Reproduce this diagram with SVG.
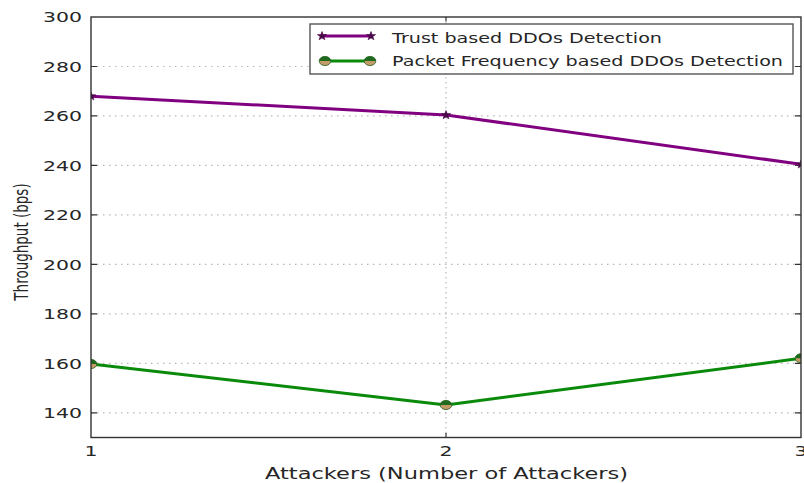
<svg xmlns="http://www.w3.org/2000/svg" width="804" height="483" viewBox="0 0 804 483">
<style>
text{font-family:"DejaVu Sans","Liberation Sans",sans-serif;fill:#262626}
.tick{font-size:14.5px}
.grid{stroke:#b8b8b8;stroke-width:1.2;fill:none}
.gh{stroke-dasharray:1.5 4.5}
.gv{stroke-dasharray:1.5 3.5}
.tk{stroke:#333;stroke-width:1.2}
.trust{stroke:#800080;stroke-width:3;fill:none;stroke-linejoin:round}
.pkt{stroke:#0a8a0a;stroke-width:3;fill:none;stroke-linejoin:round}
.lg{font-size:14.5px}
</style>
<defs>
<clipPath id="plot"><rect x="91" y="17" width="710" height="420.5"/></clipPath>
<g id="star"><polygon points="0,-4.5 1.2,-1.4 4.6,-1.4 1.9,0.6 2.9,3.8 0,1.9 -2.9,3.8 -1.9,0.6 -4.6,-1.4 -1.2,-1.4" fill="#4a0a4a" stroke="#4a0a4a" stroke-width="0.6"/></g>
<g id="dot"><ellipse cx="0" cy="0" rx="5.8" ry="4.6" fill="#c49a66" stroke="#1f5f1f" stroke-width="0.8"/><path d="M-5.8,0 A5.8,4.6 0 0 1 5.8,0 Z" fill="#1e6a1e"/></g>
</defs>
<rect width="804" height="483" fill="#fff"/>
<g id="grid">
<line class="grid gh" x1="91" y1="66.5" x2="801" y2="66.5"/>
<line class="grid gh" x1="91" y1="115.9" x2="801" y2="115.9"/>
<line class="grid gh" x1="91" y1="165.4" x2="801" y2="165.4"/>
<line class="grid gh" x1="91" y1="214.9" x2="801" y2="214.9"/>
<line class="grid gh" x1="91" y1="264.4" x2="801" y2="264.4"/>
<line class="grid gh" x1="91" y1="313.8" x2="801" y2="313.8"/>
<line class="grid gh" x1="91" y1="363.3" x2="801" y2="363.3"/>
<line class="grid gh" x1="91" y1="412.8" x2="801" y2="412.8"/>
<line class="grid gv" x1="446" y1="17" x2="446" y2="437.5"/>
</g>
<g id="ticks">
<path class="tk" d="M91,66.5h6M91,115.9h6M91,165.4h6M91,214.9h6M91,264.4h6M91,313.8h6M91,363.3h6M91,412.8h6M801,66.5h-6M801,115.9h-6M801,165.4h-6M801,214.9h-6M801,264.4h-6M801,313.8h-6M801,363.3h-6M801,412.8h-6M446,437.5v-4.5M446,17v4.5"/>
</g>
<g id="connectors" clip-path="url(#plot)">
<polyline id="trust-line" class="trust" points="91,96.2 446,115 801,164.3"/>
<polyline id="packet-line" class="pkt" points="91,364 446,405 801,358.3"/>
<use href="#star" x="91" y="96.2"/>
<use href="#star" x="446" y="115"/>
<use href="#star" x="801" y="164.3"/>
<use href="#dot" x="91" y="364"/>
<use href="#dot" x="446" y="405"/>
<use href="#dot" x="801" y="358.3"/>
</g>
<rect id="frame" x="91" y="17" width="710" height="420.5" fill="none" stroke="#333" stroke-width="1.4"/>
<g id="ylabels" class="tick" text-anchor="end">
<text x="82" y="22.3" textLength="39" lengthAdjust="spacingAndGlyphs">300</text>
<text x="82" y="71.8" textLength="39" lengthAdjust="spacingAndGlyphs">280</text>
<text x="82" y="121.2" textLength="39" lengthAdjust="spacingAndGlyphs">260</text>
<text x="82" y="170.7" textLength="39" lengthAdjust="spacingAndGlyphs">240</text>
<text x="82" y="220.2" textLength="39" lengthAdjust="spacingAndGlyphs">220</text>
<text x="82" y="269.7" textLength="39" lengthAdjust="spacingAndGlyphs">200</text>
<text x="82" y="319.1" textLength="39" lengthAdjust="spacingAndGlyphs">180</text>
<text x="82" y="368.6" textLength="39" lengthAdjust="spacingAndGlyphs">160</text>
<text x="82" y="418.1" textLength="39" lengthAdjust="spacingAndGlyphs">140</text>
</g>
<g id="xlabels" class="tick" text-anchor="middle">
<text x="91" y="456" textLength="13" lengthAdjust="spacingAndGlyphs">1</text>
<text x="446" y="456" textLength="13" lengthAdjust="spacingAndGlyphs">2</text>
<text x="801" y="456" textLength="13" lengthAdjust="spacingAndGlyphs">3</text>
</g>
<text id="xtitle" x="446.5" y="479" font-size="16.5" text-anchor="middle" textLength="363" lengthAdjust="spacingAndGlyphs">Attackers (Number of Attackers)</text>
<text id="ytitle" transform="translate(27.5,242) scale(1.4,1) rotate(-90)" font-size="13.5" text-anchor="middle">Throughput (bps)</text>
<g id="legend">
<rect x="310" y="24" width="483" height="50" fill="#fff" stroke="#555" stroke-width="1.4"/>
<line class="trust" x1="321" y1="36" x2="372" y2="36" stroke-width="2.6"/>
<use href="#star" x="322" y="36"/>
<use href="#star" x="371" y="36"/>
<line class="pkt" x1="325" y1="61" x2="370" y2="61" stroke-width="2.6"/>
<use href="#dot" x="325" y="61"/>
<use href="#dot" x="370" y="61"/>
<text class="lg" x="392" y="42.5" textLength="270" lengthAdjust="spacingAndGlyphs">Trust based DDOs Detection</text>
<text class="lg" x="392" y="66" textLength="391" lengthAdjust="spacingAndGlyphs">Packet Frequency based DDOs Detection</text>
</g>
</svg>
